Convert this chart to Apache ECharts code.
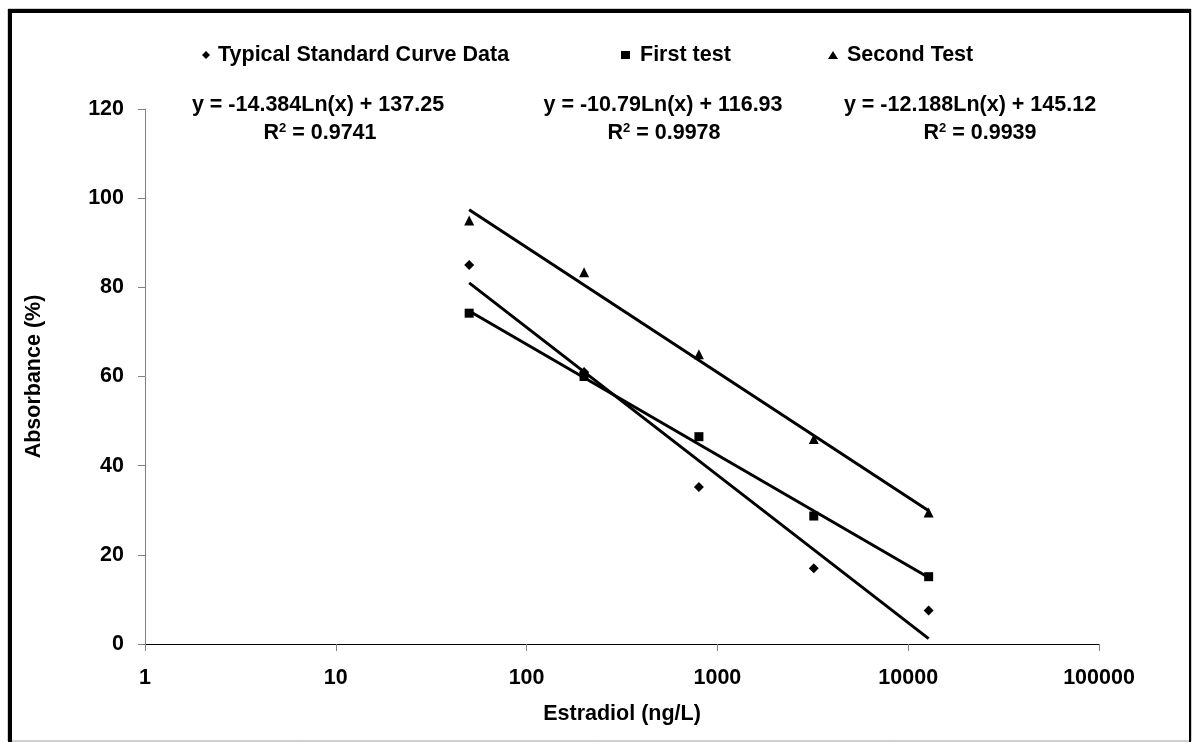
<!DOCTYPE html>
<html><head><meta charset="utf-8">
<script src="https://cdn.jsdelivr.net/npm/echarts@6/dist/echarts.min.js"></script>
<style>html,body{margin:0;padding:0;background:#fff}#c{width:1197px;height:742px}</style>
</head><body><div id="c"></div>
<script>
const concentrations = [50, 200, 800, 3200, 12800];
const typicalValues = [85.0, 61.0, 35.2, 17.0, 7.5];
const firstTestValues = [74.2, 60.0, 46.5, 28.7, 15.1];
const secondTestValues = [95.0, 83.4, 65.0, 46.0, 29.5];
const trendX = [50, 12800];
const typicalTrend = [81.0, 1.2];
const firstTrend = [74.7, 14.9];
const secondTrend = [97.4, 29.9];
const xTicks = [1, 10, 100, 1000, 10000, 100000];
const yTicks = [0, 20, 40, 60, 80, 100, 120];
const seriesNames = ['Typical Standard Curve Data', 'First test', 'Second Test'];
const equations = ['y = -14.384Ln(x) + 137.25', 'y = -10.79Ln(x) + 116.93', 'y = -12.188Ln(x) + 145.12'];
const rSquared = ['0.9741', '0.9978', '0.9939'];

const FONT = 'Arial, "Liberation Sans", sans-serif';
const FS = 21.5;
const chart = echarts.init(document.getElementById('c'), null, {renderer: 'canvas'});
const pairs = (xs, ys) => xs.map((x, i) => [x, ys[i]]);
const txt = {fontFamily: FONT, fontWeight: 'bold', fontSize: FS, color: '#000'};

function legendAt(name, icon, left, w, pad) {
  return {
    data: [{name: name, icon: icon}], left: left, top: 44, itemWidth: w, itemHeight: 8, itemGap: 0,
    textStyle: Object.assign({padding: [0, 0, 0, pad]}, txt), selectedMode: false, padding: 0
  };
}

const eqPos = [[318, 105], [663, 105], [970, 105]];
const r2Pos = [[320, 133], [664, 133], [980, 133]];
const graphics = [
  {type: 'rect', shape: {x: 8, y: 9, width: 1183, height: 732}, style: {fill: 'none', stroke: '#a0a0a0', lineWidth: 1}, silent: true},
  {type: 'rect', shape: {x: 8, y: 9, width: 1183, height: 4}, style: {fill: '#000'}, silent: true},
  {type: 'rect', shape: {x: 8, y: 9, width: 4, height: 733}, style: {fill: '#000'}, silent: true},
  {type: 'rect', shape: {x: 1189, y: 9, width: 2, height: 733}, style: {fill: '#000'}, silent: true}
];
equations.forEach((e, i) => {
  graphics.push({type: 'text', x: eqPos[i][0], y: eqPos[i][1], style: {text: e, align: 'center', verticalAlign: 'middle', fill: '#000', font: 'bold ' + FS + 'px ' + FONT}});
  graphics.push({type: 'text', x: r2Pos[i][0], y: r2Pos[i][1], style: {
    text: 'R{sup|2} = ' + rSquared[i], align: 'center', verticalAlign: 'middle', fill: '#000', font: 'bold ' + FS + 'px ' + FONT,
    rich: {sup: {fontSize: 13, fontWeight: 'bold', fontFamily: FONT, verticalAlign: 'top', padding: [0, 0, 10, 0], fill: '#000'}}
  }});
});

chart.setOption({
  animation: false,
  backgroundColor: '#fff',
  grid: {left: 145, right: 98, top: 109, bottom: 98, containLabel: false},
  legend: [
    legendAt(seriesNames[0], 'diamond', 202, 8, 3),
    legendAt(seriesNames[1], 'rect', 621, 9, 5),
    legendAt(seriesNames[2], 'triangle', 828, 10, 4)
  ],
  xAxis: {
    type: 'log', logBase: 10, min: xTicks[0], max: xTicks[xTicks.length - 1],
    name: 'Estradiol (ng/L)', nameLocation: 'middle', nameGap: 59, nameTextStyle: txt,
    axisLine: {show: true, onZero: false, lineStyle: {color: '#000', width: 1}},
    axisTick: {show: true, length: 7, lineStyle: {color: '#808080'}},
    minorTick: {show: false},
    axisLabel: Object.assign({margin: 23, formatter: v => String(Math.round(v))}, txt),
    splitLine: {show: false}
  },
  yAxis: {
    type: 'value', min: yTicks[0], max: yTicks[yTicks.length - 1], interval: 20,
    name: 'Absorbance (%)', nameLocation: 'middle', nameGap: 100, nameTextStyle: txt,
    axisLine: {show: true, lineStyle: {color: '#808080', width: 1}},
    axisTick: {show: true, length: 7, lineStyle: {color: '#808080'}},
    axisLabel: Object.assign({margin: 21}, txt),
    splitLine: {show: false}
  },
  series: [
    {name: 'trend1', type: 'line', data: pairs(trendX, typicalTrend), symbol: 'none', lineStyle: {color: '#000', width: 3}, z: 2, silent: true},
    {name: 'trend2', type: 'line', data: pairs(trendX, firstTrend), symbol: 'none', lineStyle: {color: '#000', width: 3}, z: 2, silent: true},
    {name: 'trend3', type: 'line', data: pairs(trendX, secondTrend), symbol: 'none', lineStyle: {color: '#000', width: 3}, z: 2, silent: true},
    {name: seriesNames[0], type: 'scatter', data: pairs(concentrations, typicalValues), symbol: 'diamond', symbolSize: 10, itemStyle: {color: '#000', opacity: 1}, z: 3},
    {name: seriesNames[1], type: 'scatter', data: pairs(concentrations, firstTestValues), symbol: 'rect', symbolSize: 9, itemStyle: {color: '#000', opacity: 1}, z: 3},
    {name: seriesNames[2], type: 'scatter', data: pairs(concentrations, secondTestValues), symbol: 'triangle', symbolSize: 10, itemStyle: {color: '#000', opacity: 1}, z: 3}
  ],
  graphic: graphics
});
</script></body></html>
